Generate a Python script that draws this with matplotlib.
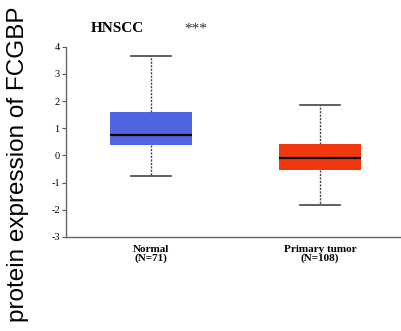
import matplotlib
matplotlib.use("Agg")
import matplotlib.pyplot as plt

# values
groups = ["Normal\n(N=71)", "Primary tumor\n(N=108)"]
whislo = [-0.77, -1.81]
q1 = [0.37, -0.52]
med = [0.77, -0.11]
q3 = [1.59, 0.41]
whishi = [3.65, 1.85]
colors = ["#5065E0", "#F2380F"]
yticks = [-3, -2, -1, 0, 1, 2, 3, 4]

stats = [dict(whislo=lo, q1=a, med=m, q3=b, whishi=hi, fliers=[])
         for lo, a, m, b, hi in zip(whislo, q1, med, q3, whishi)]

fig = plt.figure(figsize=(4.01, 3.31), dpi=100)
ax = fig.add_axes([66 / 401, 1 - 237 / 331, 1 - 66 / 401, (237 - 46.7) / 331])

bp = ax.bxp(stats, positions=[1, 2], widths=0.49, patch_artist=True,
            showfliers=False,
            boxprops=dict(linewidth=0.6, edgecolor="none"),
            medianprops=dict(color="black", linewidth=1.6),
            whiskerprops=dict(color="#444444", linestyle=(0, (1.5, 1)), linewidth=1.0),
            capprops=dict(color="#444444", linewidth=1.2),
            capwidths=0.24)
for patch, c in zip(bp["boxes"], colors):
    patch.set_facecolor(c)

ax.set_xlim(0.497, 2.479)
ax.set_ylim(-3, 4)
ax.set_yticks(yticks)
ax.set_yticklabels([str(t) for t in yticks], fontfamily="Liberation Serif", fontsize=7.5)
ax.set_xticks([1, 2])
ax.set_xticklabels(groups, fontfamily="Liberation Serif", fontsize=8,
                   fontweight="bold", linespacing=0.85)
ax.tick_params(axis="x", length=0, pad=6)
ax.tick_params(axis="y", length=3, width=0.8, color="#555555", pad=1.5)
for side in ("top", "right"):
    ax.spines[side].set_visible(False)
for side in ("left", "bottom"):
    ax.spines[side].set_color("#666666")
    ax.spines[side].set_linewidth(1.0)

fig.text(91 / 401, 1 - 28 / 331, "HNSCC", fontfamily="Liberation Serif",
         fontweight="bold", fontsize=11, va="center", ha="left")
fig.text(196 / 401, 1 - 29 / 331, "***", fontfamily="Liberation Serif",
         fontsize=11, va="center", ha="center", color="#333333")
fig.text(18 / 401, 0.505, "protein expression of FCGBP", fontfamily="Liberation Sans",
         fontsize=17.5, rotation=90, va="center", ha="center")

fig.savefig("out.png", dpi=100)
